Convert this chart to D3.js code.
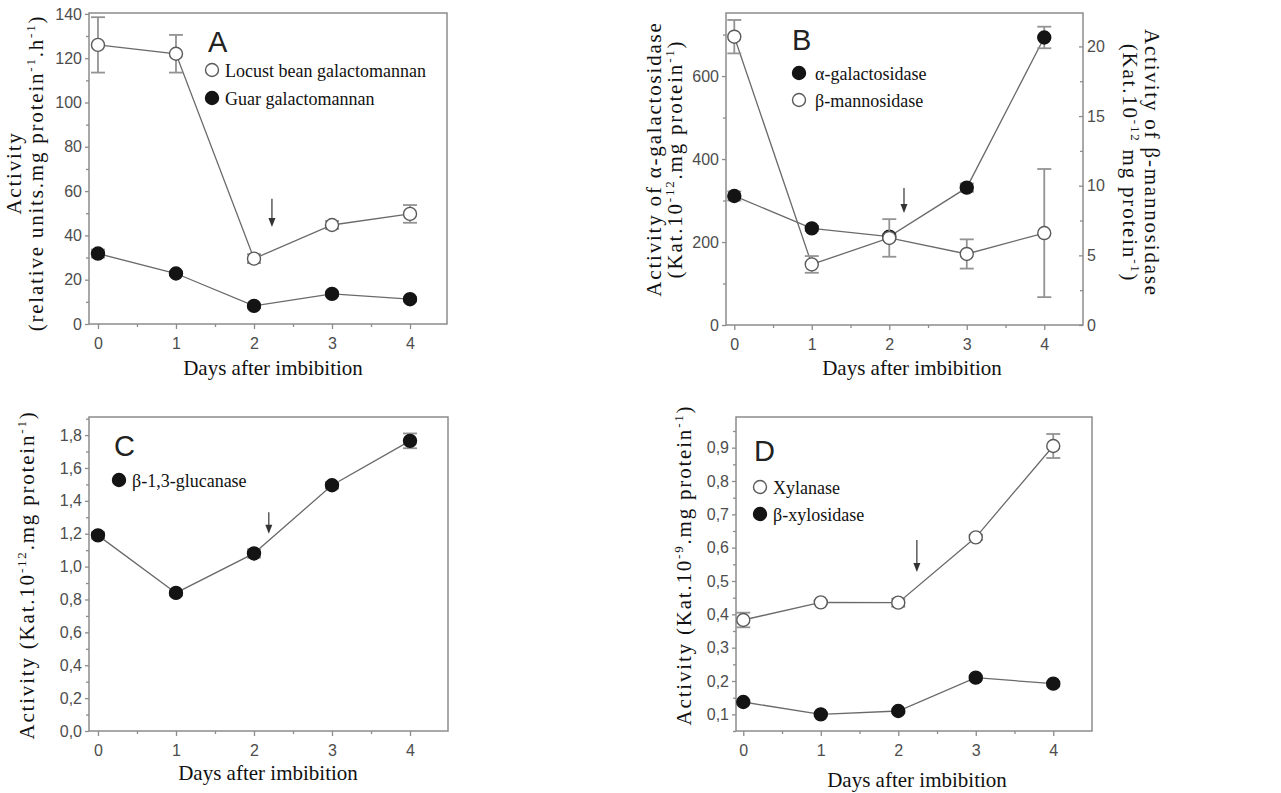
<!DOCTYPE html>
<html>
<head>
<meta charset="utf-8">
<script src="https://cdn.jsdelivr.net/npm/d3@7/dist/d3.min.js"></script>
<style>
  body { margin: 0; background: #fff; }
  svg { display: block; }
</style>
</head>
<body>
<svg id="chart" width="1281" height="793"></svg>
<script>
(function() {

  "use strict";

  // ---- data ----
  var days = [0, 1, 2, 3, 4];

  // panel A
  var locustBean = [126, 122, 29.5, 44.7, 49.7];
  var locustBeanErr = [12.5, 8.5, 2, 1.8, 4];
  var guar = [31.8, 22.8, 8.2, 13.6, 11.2];
  var guarErr = [1.8, 1, 1, 1, 1];

  // panel B
  var alphaGal = [311, 233, 213, 331, 693];
  var alphaGalErr = [11, 6, 6, 10, 26];
  var betaMan = [20.7, 4.35, 6.25, 5.1, 6.6];
  var betaManErr = [1.2, 0.6, 1.35, 1.05, 4.6];

  // panel C
  var glucanase = [1.19, 0.84, 1.08, 1.495, 1.765];
  var glucanaseErr = [0.02, 0.015, 0.025, 0.02, 0.045];

  // panel D
  var xylanase = [0.383, 0.436, 0.435, 0.631, 0.905];
  var xylanaseErr = [0.022, 0.005, 0.012, 0.008, 0.036];
  var xylosidase = [0.137, 0.1, 0.11, 0.21, 0.192];
  var xylosidaseErr = [0.005, 0.004, 0.006, 0.005, 0.005];

  // tick labels
  var yTicksA = [0, 20, 40, 60, 80, 100, 120, 140];
  var yTicksB = [0, 200, 400, 600];
  var y2TicksB = [0, 5, 10, 15, 20];
  var yTicksC = [0, 0.2, 0.4, 0.6, 0.8, 1.0, 1.2, 1.4, 1.6, 1.8];
  var yTicksD = [0.1, 0.2, 0.3, 0.4, 0.5, 0.6, 0.7, 0.8, 0.9];
  var xMinor = [0.5, 1.5, 2.5, 3.5];

  var axisColor = '#8c8c8c';
  var tickTextColor = '#4d4d4d';
  var lineColor = '#6a6a6a';
  var errColor = '#939393';
  var serif = '"Liberation Serif", "Times New Roman", serif';
  var sans = '"Liberation Sans", Arial, sans-serif';

  var comma1 = function(d) { return d3.format('.1f')(d).replace('.', ','); };

  var panels = [
    {
      letter: 'A', left: 89, right: 447, top: 13, bottom: 324,
      xDomain: [-0.115, 4.474], yDomain: [0, 140.4],
      yTicks: yTicksA, yMinor: d3.range(10, 140, 20), yFormat: d3.format('d'),
      series: [
        { values: locustBean, err: locustBeanErr, filled: false, label: 'Locust bean galactomannan' },
        { values: guar, err: guarErr, filled: true, label: 'Guar galactomannan' }
      ],
      letterPos: [208, 52], legendPos: [212, 70], legendGap: 28,
      arrow: [2.23, 56.5, 43.8],
      xTitle: [273, 375],
      yTitle: { x: 21, y: 173, lines: [
        [{ t: 'Activity' }],
        [{ t: '(relative units.mg protein' }, { t: '-1', sup: true }, { t: '.h' }, { t: '-1', sup: true }, { t: ')' }]
      ], gap: 21.5 }
    },
    {
      letter: 'B', left: 726, right: 1083, top: 13, bottom: 325,
      xDomain: [-0.107, 4.5], yDomain: [0, 752],
      yTicks: yTicksB, yMinor: [100, 300, 500, 700], yFormat: d3.format('d'),
      y2Domain: [0, 22.4], y2Ticks: y2TicksB, y2Minor: [2.5, 7.5, 12.5, 17.5],
      series: [
        { values: alphaGal, err: alphaGalErr, filled: true, label: 'α-galactosidase' },
        { values: betaMan, err: betaManErr, filled: false, right: true, label: 'β-mannosidase' }
      ],
      letterPos: [792, 50], legendPos: [799, 73], legendGap: 27,
      arrow: [2.19, 330, 270],
      xTitle: [912, 375],
      yTitle: { x: 660.5, y: 159, lines: [
        [{ t: 'Activity of α-galactosidase' }],
        [{ t: '(Kat.10' }, { t: '-12', sup: true }, { t: '.mg protein' }, { t: '-1', sup: true }, { t: ')' }]
      ], gap: 21.5 },
      y2Title: { x: 1144.6, y: 163, lines: [
        [{ t: 'Activity of β-mannosidase' }],
        [{ t: '(Kat.10' }, { t: '-12', sup: true }, { t: ' mg protein' }, { t: '-1', sup: true }, { t: ')' }]
      ], gap: 22 }
    },
    {
      letter: 'C', left: 89, right: 448, top: 417, bottom: 731,
      xDomain: [-0.115, 4.487], yDomain: [0, 1.91],
      yTicks: yTicksC, yMinor: d3.range(0.1, 1.95, 0.2), yFormat: comma1,
      series: [
        { values: glucanase, err: glucanaseErr, filled: true, label: 'β-1,3-glucanase' }
      ],
      letterPos: [114, 456], legendPos: [119, 480], legendGap: 27,
      arrow: [2.19, 1.33, 1.2],
      xTitle: [268, 780],
      yTitle: { x: 33.5, y: 575, lines: [
        [{ t: 'Activity (Kat.10' }, { t: '-12', sup: true }, { t: '.mg protein' }, { t: '-1', sup: true }, { t: ')' }]
      ], gap: 0 }
    },
    {
      letter: 'D', left: 736, right: 1092, top: 417, bottom: 731,
      xDomain: [-0.094, 4.5], yDomain: [0.05, 0.992],
      yTicks: yTicksD, yMinor: d3.range(0.05, 0.99, 0.1), yFormat: comma1,
      series: [
        { values: xylanase, err: xylanaseErr, filled: false, label: 'Xylanase' },
        { values: xylosidase, err: xylosidaseErr, filled: true, label: 'β-xylosidase' }
      ],
      letterPos: [754, 461], legendPos: [760, 487], legendGap: 27,
      arrow: [2.24, 0.623, 0.527],
      xTitle: [917, 787],
      yTitle: { x: 690.5, y: 565, lines: [
        [{ t: 'Activity (Kat.10' }, { t: '-9', sup: true }, { t: '.mg protein' }, { t: '-1', sup: true }, { t: ')' }]
      ], gap: 0 }
    }
  ];

  var svg = d3.select('#chart');

  panels.forEach(drawPanel);

  function styleAxis(sel) {
    sel.select('.domain').remove();
    sel.selectAll('.tick line').attr('stroke', axisColor).attr('stroke-width', 1.3);
    sel.selectAll('.tick text')
      .attr('fill', tickTextColor)
      .style('font-family', sans)
      .style('font-size', '16px');
  }

  // writes text parts into a <text>, superscripts as small raised tspans
  function richText(textSel, parts) {
    var lift = 0;
    parts.forEach(function(p) {
      var ts = textSel.append('tspan').text(p.t);
      if (p.sup) {
        ts.attr('font-size', '13px').attr('dy', -8);
        lift = 8;
      } else if (lift) {
        ts.attr('dy', lift);
        lift = 0;
      }
    });
  }

  function drawTitle(g, t, angle) {
    t.lines.forEach(function(parts, i) {
      // for rotate(-90) later lines move right, for rotate(90) they move left
      var bx = angle < 0 ? t.x + i * t.gap : t.x - i * t.gap;
      var txt = g.append('text')
        .attr('transform', 'translate(' + bx + ',' + t.y + ') rotate(' + angle + ')')
        .attr('text-anchor', 'middle')
        .attr('fill', '#111')
        .style('font-family', serif)
        .style('font-size', '21px')
        .style('letter-spacing', '1.8px');
      richText(txt, parts);
    });
  }

  function drawPanel(p) {
    var g = svg.append('g').attr('class', 'panel panel-' + p.letter);

    var x = d3.scaleLinear().domain(p.xDomain).range([p.left, p.right]);
    var y = d3.scaleLinear().domain(p.yDomain).range([p.bottom, p.top]);
    var y2 = p.y2Domain ? d3.scaleLinear().domain(p.y2Domain).range([p.bottom, p.top]) : null;

    // frame
    g.append('rect')
      .attr('x', p.left).attr('y', p.top)
      .attr('width', p.right - p.left).attr('height', p.bottom - p.top)
      .attr('fill', 'none')
      .attr('stroke', axisColor)
      .attr('stroke-width', 1.5);

    // x axis, major + minor
    var gx = g.append('g')
      .attr('transform', 'translate(0,' + p.bottom + ')')
      .call(d3.axisBottom(x).tickValues(days).tickSize(5).tickFormat(d3.format('d')))
      .call(styleAxis);
    gx.selectAll('.tick text').attr('y', 25).attr('dy', 0);
    g.append('g')
      .attr('transform', 'translate(0,' + p.bottom + ')')
      .call(d3.axisBottom(x).tickValues(xMinor).tickSize(3).tickFormat(''))
      .call(styleAxis);

    // left y axis
    g.append('g')
      .attr('transform', 'translate(' + p.left + ',0)')
      .call(d3.axisLeft(y).tickValues(p.yTicks).tickSize(4).tickPadding(3).tickFormat(p.yFormat))
      .call(styleAxis);
    g.append('g')
      .attr('transform', 'translate(' + p.left + ',0)')
      .call(d3.axisLeft(y).tickValues(p.yMinor).tickSize(3).tickFormat(''))
      .call(styleAxis);

    // right y axis (panel B only), ticks point inward
    if (y2) {
      g.append('g')
        .attr('transform', 'translate(' + p.right + ',0)')
        .call(d3.axisRight(y2).tickValues(p.y2Ticks).tickSize(-4).tickPadding(4).tickFormat(d3.format('d')))
        .call(styleAxis);
      g.append('g')
        .attr('transform', 'translate(' + p.right + ',0)')
        .call(d3.axisRight(y2).tickValues(p.y2Minor).tickSize(-3).tickFormat(''))
        .call(styleAxis);
    }

    // series: line, error bars, markers
    p.series.forEach(function(s) {
      var ys = s.right ? y2 : y;
      var pts = days.map(function(d, i) {
        return { day: d, v: s.values[i], e: s.err[i] };
      });

      var line = d3.line()
        .x(function(d) { return x(d.day); })
        .y(function(d) { return ys(d.v); });

      g.append('path')
        .datum(pts)
        .attr('d', line)
        .attr('fill', 'none')
        .attr('stroke', lineColor)
        .attr('stroke-width', 1.3);

      var eb = g.append('g').selectAll('g')
        .data(pts)
        .enter()
        .append('g')
        .attr('stroke', errColor)
        .attr('stroke-width', 1.8);
      eb.append('line')
        .attr('x1', function(d) { return x(d.day); })
        .attr('x2', function(d) { return x(d.day); })
        .attr('y1', function(d) { return ys(d.v - d.e); })
        .attr('y2', function(d) { return ys(d.v + d.e); });
      eb.append('line')
        .attr('x1', function(d) { return x(d.day) - 7; })
        .attr('x2', function(d) { return x(d.day) + 7; })
        .attr('y1', function(d) { return ys(d.v + d.e); })
        .attr('y2', function(d) { return ys(d.v + d.e); });
      eb.append('line')
        .attr('x1', function(d) { return x(d.day) - 7; })
        .attr('x2', function(d) { return x(d.day) + 7; })
        .attr('y1', function(d) { return ys(d.v - d.e); })
        .attr('y2', function(d) { return ys(d.v - d.e); });

      g.append('g').selectAll('circle')
        .data(pts)
        .enter()
        .append('circle')
        .attr('cx', function(d) { return x(d.day); })
        .attr('cy', function(d) { return ys(d.v); })
        .attr('r', 6.5)
        .attr('fill', s.filled ? '#141414' : '#fff')
        .attr('stroke', s.filled ? '#141414' : '#5a5a5a')
        .attr('stroke-width', 1.4);
    });

    // arrow marking the change at ~day 2.2
    var ax = x(p.arrow[0]);
    var ay1 = y(p.arrow[1]);
    var ay2 = y(p.arrow[2]);
    g.append('line')
      .attr('x1', ax).attr('x2', ax)
      .attr('y1', ay1).attr('y2', ay2 - 6)
      .attr('stroke', '#333')
      .attr('stroke-width', 1.2);
    g.append('path')
      .attr('d', 'M' + (ax - 3.5) + ',' + (ay2 - 9) + 'L' + (ax + 3.5) + ',' + (ay2 - 9) + 'L' + ax + ',' + ay2 + 'Z')
      .attr('fill', '#333');

    // panel letter
    g.append('text')
      .attr('x', p.letterPos[0])
      .attr('y', p.letterPos[1])
      .attr('fill', '#222')
      .style('font-family', sans)
      .style('font-size', '29px')
      .text(p.letter);

    // legend
    p.series.forEach(function(s, k) {
      var cy = p.legendPos[1] + k * p.legendGap;
      g.append('circle')
        .attr('cx', p.legendPos[0])
        .attr('cy', cy)
        .attr('r', 6.5)
        .attr('fill', s.filled ? '#141414' : '#fff')
        .attr('stroke', s.filled ? '#141414' : '#5a5a5a')
        .attr('stroke-width', 1.4);
      g.append('text')
        .attr('x', p.legendPos[0] + (p.letter === 'B' ? 16 : 13))
        .attr('y', cy + 6.5)
        .attr('fill', '#111')
        .style('font-family', serif)
        .style('font-size', '18px')
        .text(s.label);
    });

    // axis titles
    g.append('text')
      .attr('x', p.xTitle[0])
      .attr('y', p.xTitle[1])
      .attr('text-anchor', 'middle')
      .attr('fill', '#111')
      .style('font-family', serif)
      .style('font-size', '21px')
      .text('Days after imbibition');

    drawTitle(g, p.yTitle, -90);
    if (p.y2Title) {
      drawTitle(g, p.y2Title, 90);
    }
  }
})();
</script>
</body>
</html>
